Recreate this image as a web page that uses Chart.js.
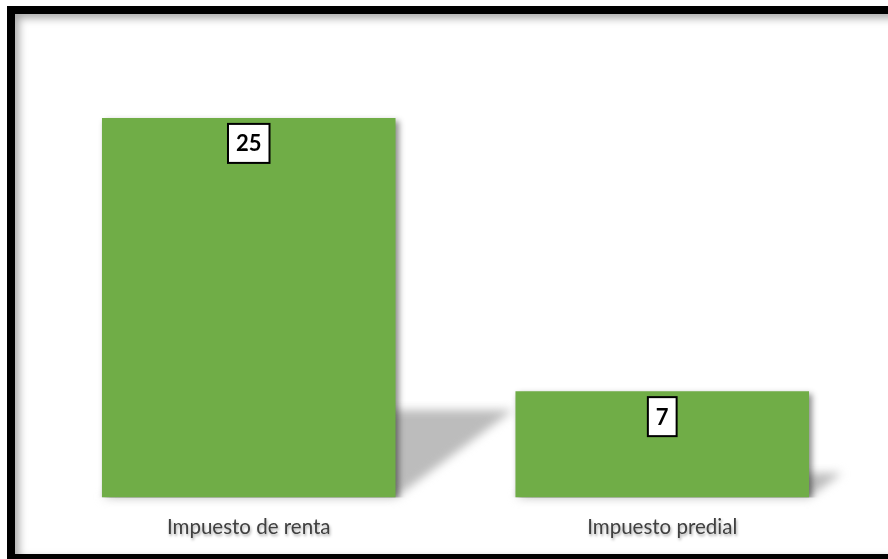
<!DOCTYPE html>
<html>
<head>
<meta charset="utf-8">
<script src="https://cdn.jsdelivr.net/npm/chart.js@4"></script>
<style>
  html, body { margin: 0; padding: 0; background: #fff; overflow: hidden; }
  #wrap { position: absolute; left: 0; top: 0; width: 888px; height: 559px; }
  #frame {
    position: absolute; left: 7px; top: 6px; width: 920px; height: 556px;
    box-sizing: border-box; border: 8px solid #000;
    box-shadow: inset 4px 4px 8px rgba(0,0,0,0.35);
    pointer-events: none; z-index: 2;
  }
  canvas { position: absolute; left: 0; top: 0; z-index: 1; }
</style>
</head>
<body>
<div id="wrap">
  <canvas id="chart" width="888" height="559"></canvas>
  <div id="frame"></div>
</div>
<script>
// chart data
var categories = ['Impuesto de renta', 'Impuesto predial'];
var values = [25, 7];
var yMax = 30;

var GREEN = '#70AD47';

// skewed floor shadow behind each bar + drop shadow on bars and labels
var shadowPlugin = {
  id: 'shadows',
  beforeDraw: function (chart) {
    var ctx = chart.ctx;
    ctx.save();
    ctx.shadowColor = 'rgba(0,0,0,0.35)';
    ctx.shadowBlur = 3;
    ctx.shadowOffsetX = 1;
    ctx.shadowOffsetY = 2;
  },
  beforeDatasetsDraw: function (chart) {
    var ctx = chart.ctx;
    ctx.restore();
    var meta = chart.getDatasetMeta(0);
    meta.data.forEach(function (bar) {
      var h = bar.base - bar.y;
      var left = bar.x - bar.width / 2, right = bar.x + bar.width / 2;
      var dx = h * 0.31, dy = h * 0.23;
      ctx.save();
      ctx.filter = 'blur(5px)';
      ctx.fillStyle = '#bcbcbc';
      ctx.beginPath();
      ctx.moveTo(left, bar.base);
      ctx.lineTo(right, bar.base);
      ctx.lineTo(right + dx, bar.base - dy);
      ctx.lineTo(left + dx, bar.base - dy);
      ctx.closePath();
      ctx.fill();
      ctx.restore();
    });
    ctx.save();
    ctx.shadowColor = 'rgba(0,0,0,0.45)';
    ctx.shadowBlur = 6;
    ctx.shadowOffsetX = 3;
    ctx.shadowOffsetY = 3;
  },
  afterDatasetsDraw: function (chart) {
    var ctx = chart.ctx;
    ctx.restore();
    // boxed value labels
    var meta = chart.getDatasetMeta(0);
    ctx.save();
    ctx.font = 'bold 22px Lato, "Liberation Sans", sans-serif';
    ctx.textAlign = 'center';
    ctx.textBaseline = 'middle';
    meta.data.forEach(function (bar, i) {
      var txt = String(values[i]);
      var w = ctx.measureText(txt).width + 16;
      var hBox = 39;
      var top = bar.y + 6;
      ctx.fillStyle = '#fff';
      ctx.fillRect(bar.x - w / 2, top, w, hBox);
      ctx.lineWidth = 2;
      ctx.strokeStyle = '#000';
      ctx.strokeRect(bar.x - w / 2, top, w, hBox);
      ctx.fillStyle = '#000';
      ctx.fillText(txt, bar.x, top + hBox / 2 + 1);
    });
    ctx.restore();
  }
};

new Chart(document.getElementById('chart').getContext('2d'), {
  type: 'bar',
  data: {
    labels: categories,
    datasets: [{
      data: values,
      backgroundColor: GREEN,
      borderWidth: 0,
      categoryPercentage: 1,
      barPercentage: 0.71
    }]
  },
  options: {
    responsive: false,
    animation: false,
    layout: { padding: { left: 42, right: 19, top: 42, bottom: 9 } },
    plugins: {
      legend: { display: false },
      tooltip: { enabled: false }
    },
    scales: {
      y: { display: false, min: 0, max: yMax },
      x: {
        grid: { display: false },
        border: { display: false },
        ticks: {
          padding: 10,
          color: '#404040',
          font: { family: 'Lato, "Liberation Sans", sans-serif', size: 20.5 }
        }
      }
    }
  },
  plugins: [shadowPlugin]
});
</script>
</body>
</html>
